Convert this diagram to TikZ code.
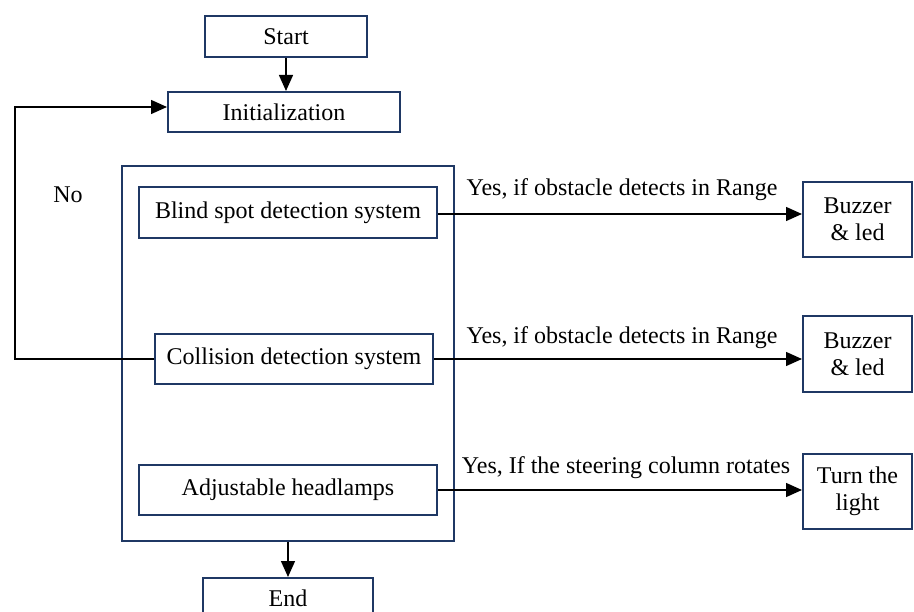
\documentclass[tikz,border=0pt]{standalone}
\usepackage{fontspec}
\setmainfont{Liberation Serif}
\usetikzlibrary{arrows.meta}
\definecolor{navy}{RGB}{31,56,100}
\tikzset{
  box/.style={draw=navy, line width=2pt, rectangle, inner sep=0pt, align=center, font=\fontsize{24}{27}\selectfont},
  arr/.style={draw=black, line width=1.4pt, -{Triangle[length=16pt,width=14pt]}},
  lbl/.style={font=\fontsize{24}{27}\selectfont, inner sep=0pt}
}
\begin{document}
\begin{tikzpicture}[x=1pt,y=-1pt]
\useasboundingbox (0,0) rectangle (914,612);
\clip (0,0) rectangle (914,612);
\node[box, minimum width=162, minimum height=41] (start) at (286,36.5) {Start};
\node[box, minimum width=232, minimum height=40] (init) at (284,112) {Initialization};
\node[box, minimum width=332, minimum height=375] (outer) at (288,353.5) {};
\node[box, minimum width=298, minimum height=51] (blind) at (288,212.5) {Blind spot detection system};
\node[box, minimum width=278, minimum height=50] (coll) at (294,359) {Collision detection system};
\node[box, minimum width=298, minimum height=50] (adj) at (288,490) {Adjustable headlamps};
\node[box, minimum width=170, minimum height=40, anchor=north] (end) at (288,577) {End};
\node[box, minimum width=109, minimum height=75] (buz1) at (857.5,219.5) {Buzzer\\\& led};
\node[box, minimum width=109, minimum height=76] (buz2) at (857.5,354) {Buzzer\\\& led};
\node[box, minimum width=109, minimum height=75] (turn) at (857.5,491.5) {Turn the\\light};
\coordinate (loopc) at (15,107);
\draw[arr] (start.south) -- (start.south |- init.north);
\draw[arr] (outer.south) -- (end.north);
\draw[arr] (blind.east |- 0,214) -- (buz1.west |- 0,214);
\draw[arr] (coll.east) -- (coll.east -| buz2.west);
\draw[arr] (adj.east) -- (adj.east -| turn.west);
\draw[arr] (coll.west) -| (loopc) -- (loopc -| init.west);
\node[lbl] (l1) at (622,190) {Yes, if obstacle detects in Range};
\node[lbl] (l2) at (622,338) {Yes, if obstacle detects in Range};
\node[lbl] (l3) at (626,468) {Yes, If the steering column rotates};
\node[lbl] (no) at (68,195) {No};
\end{tikzpicture}
\end{document}
